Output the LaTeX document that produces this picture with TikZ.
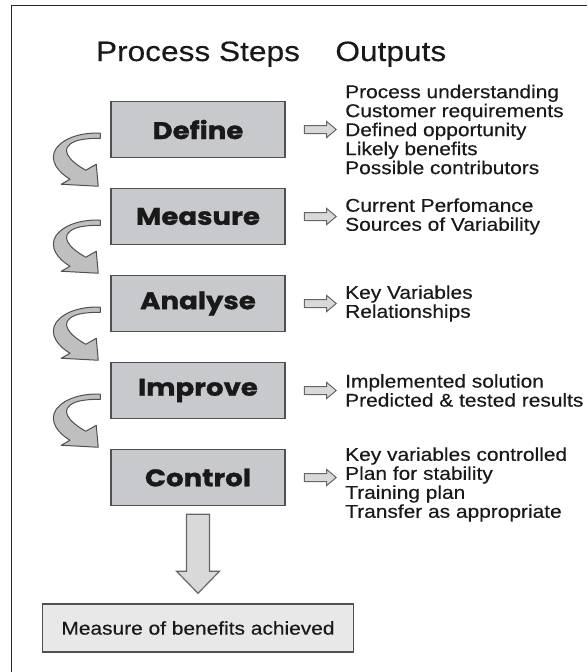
\documentclass[tikz,border=0pt]{standalone}
\usepackage{fontspec}
\setmainfont{Liberation Sans}[FakeStretch=1.13, FakeBold=0.3]
\newfontfamily\stepfont{Poppins}[FakeStretch=1.15, FakeBold=1.2]
\usetikzlibrary{positioning, shapes.arrows}

\definecolor{boxgray}{RGB}{200,201,204}
\definecolor{linegray}{RGB}{80,80,80}

\tikzset{
    turnarrow/.pic={
        \filldraw[fill=black!25, draw=linegray, line width=1pt, line join=round]
            (-10,-25) .. controls (-25,-26) and (-45,-22) .. (-54,-10)
            .. controls (-62,2) and (-52,14) .. (-40.25,21)
            -- (-49,26) -- (-12,28) -- (-14,6) -- (-24.5,12)
            .. controls (-42,2) and (-52,-10) .. (-35,-17)
            .. controls (-28,-19.5) and (-18,-20) .. (-10,-20) -- cycle;
    }
}

\begin{document}
\begin{tikzpicture}[
    x=1pt, y=-1pt,
    heading/.style={inner sep=0pt, text=black!90, font=\fontsize{28}{28}\selectfont},
    stepbox/.style={
        draw=linegray, line width=1.5pt, fill=boxgray,
        minimum width=174pt, minimum height=56pt, inner sep=0pt,
        text=black!90, font=\stepfont\bfseries\fontsize{24}{24}\selectfont
    },
    outarrow/.style={
        single arrow, draw=black!60, fill=black!15, line width=1pt,
        minimum height=32pt, inner sep=3.5pt,
        single arrow head extend=4pt, single arrow tip angle=80
    },
    outlist/.style={
        align=left, inner sep=0pt, text=black!90,
        font=\fontsize{18.5}{19}\selectfont
    },
    bigarrow/.style={fill=black!15, draw=black!60, line width=1.2pt, line join=miter},
    result/.style={
        draw=linegray, line width=1.5pt, fill=black!9,
        minimum width=311pt, minimum height=48pt, inner sep=0pt,
        text=black!90, font=\fontsize{18.5}{19}\selectfont
    },
]
  \useasboundingbox (0,0) rectangle (587,672);
  \draw[line width=0.8pt, black!85] (11,672) -- (11,5) -- (587,5);

  % headings
  \node[heading, anchor=base] (steps) at (198,61) {Process Steps};
  \node[heading, base right=35pt of steps] (outputs) {Outputs};

  % the five steps
  \node[stepbox] (define) at (198,129.5) {Define};
  \node[stepbox, below=29.5pt of define] (measure) {Measure};
  \node[stepbox, below=29.5pt of measure] (analyse) {Analyse};
  \node[stepbox, below=29.5pt of analyse] (improve) {Improve};
  \node[stepbox, below=29.5pt of improve] (control) {Control};

  \pic at (define.south west) {turnarrow};
  \pic at (measure.south west) {turnarrow};
  \pic at (analyse.south west) {turnarrow};
  \pic at (improve.south west) {turnarrow};

  % outputs of each step
  \node[outarrow, right=18pt of define] (definearr) {};
  \node[outlist, right=8pt of definearr] (defineout) {Process understanding\\Customer requirements\\Defined opportunity\\Likely benefits\\Possible contributors};
  \node[outarrow, right=18pt of measure] (measurearr) {};
  \node[outlist, right=8pt of measurearr] (measureout) {Current Perfomance\\Sources of Variability};
  \node[outarrow, right=18pt of analyse] (analysearr) {};
  \node[outlist, right=8pt of analysearr] (analyseout) {Key Variables\\Relationships};
  \node[outarrow, right=18pt of improve] (improvearr) {};
  \node[outlist, right=8pt of improvearr] (improveout) {Implemented solution\\Predicted \& tested results};
  \node[outarrow, right=18pt of control] (controlarr) {};
  \node[outlist, right=8pt of controlarr, yshift=-7pt] (controlout) {Key variables controlled\\Plan for stability\\Training plan\\Transfer as appropriate};

  % end result
  \node[result, below=97pt of control] (benefits) {Measure of benefits achieved};
  \filldraw[bigarrow] ([shift={(-11.5,8)}]control.south) -- ++(0,57) -- ++(-10,0)
      -- ([yshift=10pt]benefits.north) -- ++(21.5,-22) -- ++(-10,0)
      -- ([shift={(11.5,8)}]control.south) -- cycle;
\end{tikzpicture}
\end{document}
